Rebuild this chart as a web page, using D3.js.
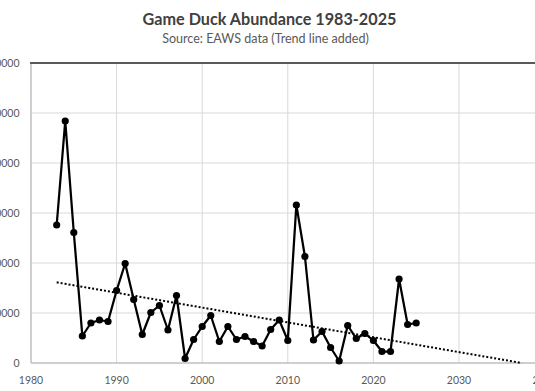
<!DOCTYPE html>
<html>
<head>
<meta charset="utf-8">
<script src="https://cdn.jsdelivr.net/npm/d3@7"></script>
<style>
  html, body { margin: 0; padding: 0; background: #fff; }
  svg { display: block; overflow: hidden; }
  text { font-family: Lato, "Open Sans", "Liberation Sans", sans-serif; }
</style>
</head>
<body>
<svg id="chart" width="535" height="391"></svg>
<script>
// yearly game duck abundance
const years = [1983, 1984, 1985, 1986, 1987, 1988, 1989, 1990, 1991, 1992, 1993, 1994, 1995, 1996, 1997,
    1998, 1999, 2000, 2001, 2002, 2003, 2004, 2005, 2006, 2007, 2008, 2009, 2010, 2011, 2012, 2013,
    2014, 2015, 2016, 2017, 2018, 2019, 2020, 2021, 2022, 2023, 2024, 2025];
const abundance = [276000, 484000, 261000, 54000, 80000, 86000, 83000, 145000, 199000, 127000, 57000,
    101000, 115000, 66000, 135000, 9000, 47000, 73000, 95000, 43000, 73000, 47000, 53000, 43000, 34000,
    67000, 86000, 45000, 316000, 213000, 46000, 63000, 31000, 4000, 75000, 49000, 59000, 45000, 23000,
    23000, 168000, 77000, 80000];
const xTicks = [1980, 1990, 2000, 2010, 2020, 2030, 2040];
const yTicks = [0, 100000, 200000, 300000, 400000, 500000, 600000];
const titleText = 'Game Duck Abundance 1983-2025';
const subtitleText = 'Source: EAWS data (Trend line added)';

const svg = d3.select('#chart');
const x = d3.scaleLinear().domain([1980, 2040]).range([31, 544.6]);
const y = d3.scaleLinear().domain([0, 600000]).range([363, 63]);

// titles, sized to the width they take in the picture
const fitText = (sel, target) => {
    const w = sel.node().getComputedTextLength();
    const fs = parseFloat(sel.attr('font-size'));
    sel.attr('font-size', fs * target / w);
};
const title = svg.append('text').attr('x', 269.5).attr('y', 25).attr('text-anchor', 'middle')
    .attr('font-size', 16).attr('font-weight', 'bold').attr('fill', '#404040').text(titleText);
fitText(title, 254);
const subtitle = svg.append('text').attr('x', 265.5).attr('y', 43).attr('text-anchor', 'middle')
    .attr('font-size', 12).attr('fill', '#595959').text(subtitleText);
fitText(subtitle, 207);

// gridlines
svg.append('g').selectAll('line').data(yTicks.filter((d) => d > 0 && d < 600000)).join('line')
    .attr('x1', x(1980)).attr('x2', x(2040))
    .attr('y1', (d) => y(d)).attr('y2', (d) => y(d))
    .attr('stroke', '#d9d9d9').attr('stroke-width', 1);
svg.append('g').selectAll('line').data(xTicks.filter((d) => d > 1980)).join('line')
    .attr('x1', (d) => x(d)).attr('x2', (d) => x(d))
    .attr('y1', y(600000)).attr('y2', y(0))
    .attr('stroke', '#d9d9d9').attr('stroke-width', 1);

// axes lines
svg.append('line').attr('x1', x(1980)).attr('x2', x(2040)).attr('y1', y(0)).attr('y2', y(0))
    .attr('stroke', '#bfbfbf').attr('stroke-width', 1.5);
svg.append('line').attr('x1', x(1980)).attr('x2', x(1980)).attr('y1', y(600000)).attr('y2', y(0))
    .attr('stroke', '#bfbfbf').attr('stroke-width', 1.5);
svg.append('line').attr('x1', x(1980) - 1).attr('x2', x(2040)).attr('y1', y(600000)).attr('y2', y(600000))
    .attr('stroke', '#595959').attr('stroke-width', 2);

// tick labels
svg.append('g').selectAll('text').data(xTicks).join('text')
    .attr('x', (d) => x(d)).attr('y', 383.5).attr('text-anchor', 'middle')
    .attr('font-size', 10.5).attr('fill', '#595959').text((d) => d);
svg.append('g').selectAll('text').data(yTicks).join('text')
    .attr('x', 19.5).attr('y', (d) => y(d) + 4).attr('text-anchor', 'end')
    .attr('font-size', 10.5).attr('fill', '#595959').text((d) => d);

// linear trend line, projected forward until it reaches zero
const meanX = d3.mean(years);
const meanY = d3.mean(abundance);
const slope = d3.sum(years, (yr, i) => (yr - meanX) * (abundance[i] - meanY)) /
    d3.sum(years, (yr) => (yr - meanX) * (yr - meanX));
const intercept = meanY - slope * meanX;
const trendEnd = Math.min(2038, -intercept / slope);
svg.append('line')
    .attr('x1', x(years[0])).attr('y1', y(slope * years[0] + intercept))
    .attr('x2', x(trendEnd)).attr('y2', y(slope * trendEnd + intercept))
    .attr('stroke', '#000').attr('stroke-width', 2).attr('stroke-dasharray', '2,2');

// the series
const points = years.map((yr, i) => ({year: yr, value: abundance[i]}));
svg.append('path').datum(points)
    .attr('fill', 'none').attr('stroke', '#000').attr('stroke-width', 2.25)
    .attr('stroke-linejoin', 'round')
    .attr('d', d3.line().x((d) => x(d.year)).y((d) => y(d.value)));
svg.append('g').selectAll('circle').data(points).join('circle')
    .attr('cx', (d) => x(d.year)).attr('cy', (d) => y(d.value)).attr('r', 3.6)
    .attr('fill', '#000');
</script>
</body>
</html>
